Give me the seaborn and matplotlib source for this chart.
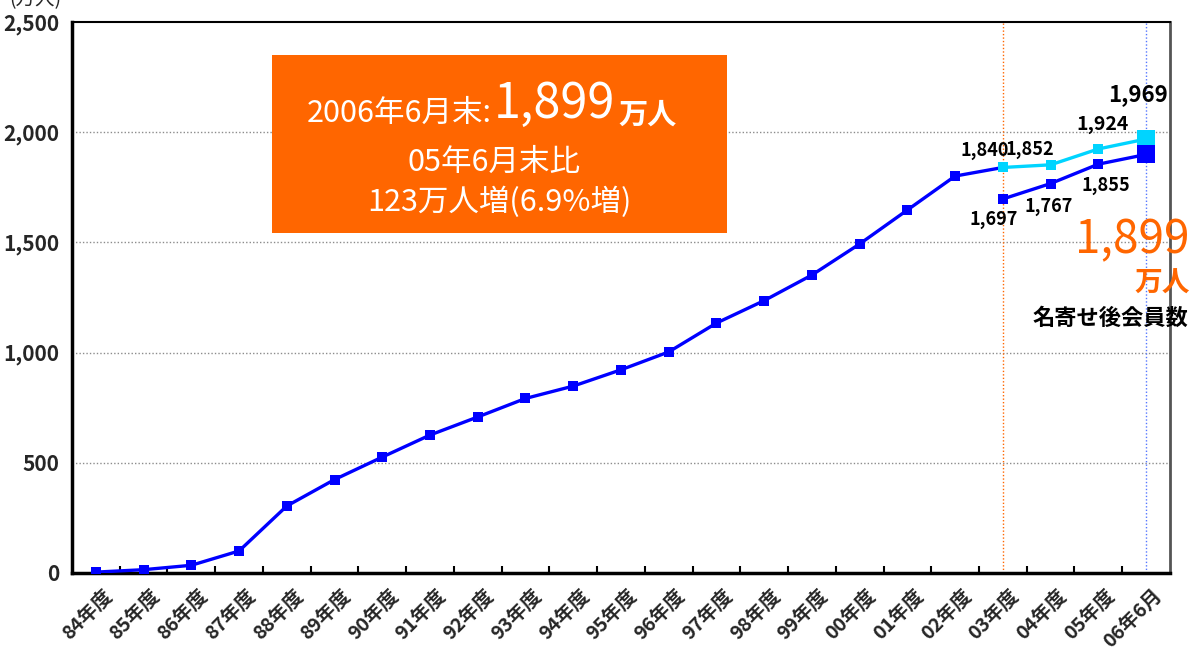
import matplotlib
matplotlib.use("Agg")
import matplotlib.pyplot as plt
import matplotlib.transforms as mtransforms
from matplotlib.patches import Rectangle
import pandas as pd
import seaborn as sns


# DATA
YEARS = ["84年度", "85年度", "86年度", "87年度", "88年度", "89年度", "90年度",
         "91年度", "92年度", "93年度", "94年度", "95年度", "96年度", "97年度",
         "98年度", "99年度", "00年度", "01年度", "02年度", "03年度", "04年度",
         "05年度", "06年6月"]
# members up to 02年度 (万人)
MEMBERS = [4, 15, 35, 100, 304, 424, 526, 626, 708, 792, 848, 922, 1003,
           1134, 1236, 1352, 1493, 1647, 1801]
# 03年度 .. 06年6月, before / after name consolidation
BEFORE_MERGE = [1840, 1852, 1924, 1969]
AFTER_MERGE = [1697, 1767, 1855, 1899]
Y_TICKS = [0, 500, 1000, 1500, 2000, 2500]

BLUE = "#0000ff"
CYAN = "#00d4ff"
ORANGE = "#ff6600"
JP = ["Noto Sans CJK JP", "DejaVu Sans"]


def build_frames():
    n_hist = len(MEMBERS)
    hist = pd.DataFrame({
        "pos": list(range(n_hist + 1)),
        "value": MEMBERS + BEFORE_MERGE[:1],
    })
    start = len(YEARS) - len(BEFORE_MERGE)
    before = pd.DataFrame({"pos": list(range(start, len(YEARS))), "value": BEFORE_MERGE})
    after = pd.DataFrame({"pos": list(range(start, len(YEARS))), "value": AFTER_MERGE})
    return hist, before, after


def main():
    sns.set_theme(style="white")
    plt.rcParams["font.family"] = JP

    hist, before, after = build_frames()

    fig = plt.figure(figsize=(11.96, 6.55), dpi=100)
    ax = fig.add_axes([0.0602, 0.1252, 0.9180, 0.8412])

    # grid
    for y in Y_TICKS[1:-1]:
        ax.axhline(y, color="#8c8c8c", lw=1.0, ls=(0, (1, 1.5)), zorder=1)

    start = len(YEARS) - len(BEFORE_MERGE)
    ax.axvline(start, color=ORANGE, lw=1.0, ls=(0, (1, 1.5)), zorder=1)
    ax.axvline(len(YEARS) - 1, color="#5577ff", lw=1.0, ls=(0, (1, 1.5)), zorder=1)

    line_kw = dict(x="pos", y="value", marker="s", markersize=7,
                   markeredgewidth=0, linewidth=2.4, errorbar=None, ax=ax,
                   legend=False)
    sns.lineplot(data=hist, color=BLUE, zorder=3, **line_kw)
    sns.lineplot(data=before, color=CYAN, zorder=4, **line_kw)
    sns.lineplot(data=after, color=BLUE, zorder=4, **line_kw)

    # bigger last markers
    sns.scatterplot(x=before["pos"].iloc[-1:], y=before["value"].iloc[-1:], ax=ax,
                    color=CYAN, marker="s", s=180, linewidth=0, zorder=5)
    sns.scatterplot(x=after["pos"].iloc[-1:], y=after["value"].iloc[-1:], ax=ax,
                    color=BLUE, marker="s", s=180, linewidth=0, zorder=5)

    # value labels
    lab_kw = dict(textcoords="offset pixels", ha="center", va="center",
                  fontweight="bold", color="black",
                  annotation_clip=False, zorder=6)
    before_offsets = [(-18, 17), (-21, 15), (4, 24), (-8, 44)]
    before_sizes = [13, 13, 14, 16]
    after_offsets = [(-9, -21), (-2, -23), (8, -21)]
    for i, (dx, dy) in enumerate(before_offsets):
        ax.annotate(f"{BEFORE_MERGE[i]:,}", (before["pos"][i], BEFORE_MERGE[i]),
                    xytext=(dx, dy), fontsize=before_sizes[i], **lab_kw)
    for i, (dx, dy) in enumerate(after_offsets):
        ax.annotate(f"{AFTER_MERGE[i]:,}", (after["pos"][i], AFTER_MERGE[i]),
                    xytext=(dx, dy), fontsize=13, **lab_kw)

    last = (after["pos"].iloc[-1], AFTER_MERGE[-1])
    ax.annotate(f"{AFTER_MERGE[-1]:,}", last, xytext=(-14, -86),
                textcoords="offset pixels", ha="center", va="center",
                fontsize=33, color=ORANGE, annotation_clip=False, zorder=6)
    ax.annotate("万人", last, xytext=(16, -129), textcoords="offset pixels",
                ha="center", va="center", fontsize=20, fontweight="bold",
                color=ORANGE, annotation_clip=False, zorder=6)
    ax.annotate("名寄せ後会員数", last, xytext=(-36, -164),
                textcoords="offset pixels", ha="center", va="center",
                fontsize=16, fontweight="bold", color="black",
                annotation_clip=False, zorder=6)

    # orange summary box
    ax.add_patch(Rectangle((0.182, 0.617), 0.415, 0.323, transform=ax.transAxes,
                           facecolor=ORANGE, edgecolor="none", zorder=5))
    t1 = ax.text(0.214, 0.818, "2006年6月末:", transform=ax.transAxes,
                 fontsize=22, color="white", va="baseline", zorder=6)
    t2 = ax.annotate(f"{AFTER_MERGE[-1]:,}", xy=(1, 0), xycoords=t1,
                     xytext=(2, 0), textcoords="offset pixels", fontsize=35,
                     color="white", va="bottom", zorder=6)
    ax.annotate("万人", xy=(1, 0), xycoords=t2, xytext=(3, 0),
                textcoords="offset pixels", fontsize=21, fontweight="bold",
                color="white", va="bottom", zorder=6)
    ax.text(0.384, 0.746, "05年6月末比", transform=ax.transAxes, fontsize=22,
            color="white", ha="center", va="center", zorder=6)
    ax.text(0.389, 0.673, "123万人増(6.9%増)", transform=ax.transAxes,
            fontsize=22, color="white", ha="center", va="center", zorder=6)

    # axes
    ax.set_xlim(-0.5, len(YEARS) - 0.5)
    ax.set_ylim(Y_TICKS[0], Y_TICKS[-1])
    ax.set_xlabel("")
    ax.set_ylabel("")
    ax.set_yticks(Y_TICKS)
    ax.set_yticklabels([f"{v:,}" for v in Y_TICKS], fontsize=15,
                       fontweight="bold")
    ax.tick_params(axis="y", length=0, pad=9)

    ax.set_xticks(range(len(YEARS)))
    ax.set_xticklabels(YEARS, rotation=45, ha="right", va="center",
                       rotation_mode="anchor", fontsize=14, fontweight="bold")
    ax.set_xticks([i + 0.5 for i in range(len(YEARS) - 1)], minor=True)
    ax.tick_params(axis="x", which="major", length=0, pad=14)
    ax.tick_params(axis="x", which="minor", direction="in", length=5,
                   width=1.5, color="black", bottom=True)
    shift = mtransforms.ScaledTranslation(13 / 100, 0, fig.dpi_scale_trans)
    for lbl in ax.get_xticklabels():
        lbl.set_transform(lbl.get_transform() + shift)

    for side in ["left", "bottom"]:
        ax.spines[side].set_color("black")
        ax.spines[side].set_linewidth(2.5)
    ax.spines["top"].set_color("black")
    ax.spines["top"].set_linewidth(1.5)
    ax.spines["right"].set_color("#555555")
    ax.spines["right"].set_linewidth(2)

    # unit label, partly cut off at the top edge like the original
    fig.text(0.008, 1.0, "(万人)", fontsize=14, va="center", ha="left")

    fig.savefig("out.png", dpi=100)


if __name__ == "__main__":
    main()
